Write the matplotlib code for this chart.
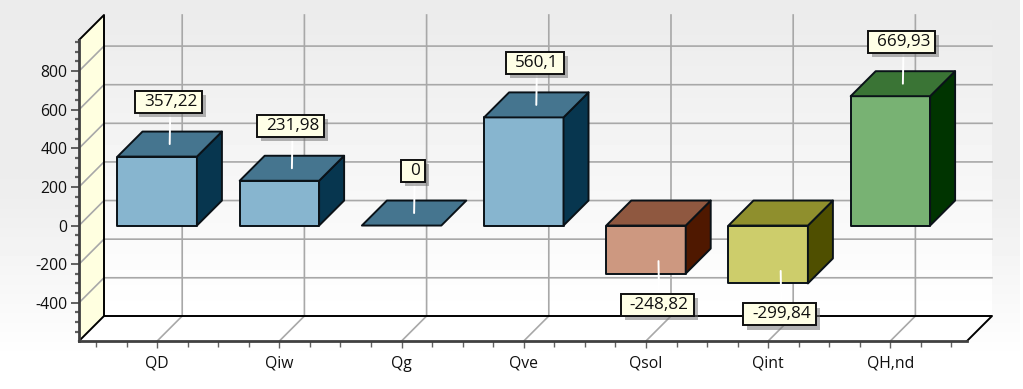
#!/usr/bin/env python3
"""Heat balance 3D-look bar chart, drawn on a plain 2D axes with an oblique depth."""

import matplotlib

matplotlib.use("Agg")
import matplotlib.patheffects as pe
import matplotlib.pyplot as plt
import numpy as np
from matplotlib.path import Path

categories = ["QD", "Qiw", "Qg", "Qve", "Qsol", "Qint", "QH,nd"]
values = [357.22, 231.98, 0, 560.1, -248.82, -299.84, 669.93]
value_labels = ["357,22", "231,98", "0", "560,1", "-248,82", "-299,84", "669,93"]
y_ticks = [-400, -200, 0, 200, 400, 600, 800]

# front, top, side
BLUE = ("#87b5cf", "#45758f", "#07364f")
BROWN = ("#cd9880", "#8f5840", "#4f1800")
OLIVE = ("#cdcd6b", "#8f8f2d", "#4f4f00")
GREEN = ("#78b273", "#3a7435", "#003400")
bar_colors = [BLUE, BLUE, BLUE, BLUE, BROWN, OLIVE, GREEN]

W, H = 1023, 389
DEPTH_PX = 25
BAR_WIDTH = 0.65
XLIM = (-0.640, 6.627)
YLIM = (-598, 961)
GRID = "#a8a8a8"
INK = "#0a1218"

plt.rcParams["font.family"] = ["Open Sans", "DejaVu Sans"]
plt.rcParams["axes.unicode_minus"] = False

fig = plt.figure(figsize=(W / 100, H / 100), dpi=100, facecolor="white")

# background gradients, in pixel coordinates
bg = fig.add_axes([0, 0, 1, 1], zorder=0)
bg.axis("off")
outer = np.interp(np.arange(H), [0, 190, 360, H], [0.925, 0.93, 1.0, 1.0])
bg.imshow(outer[:, None], extent=(0, 1020, H, 0), cmap="gray", vmin=0, vmax=1, aspect="auto")
wall = np.interp(np.arange(300), [0, 300], [0.925, 1.0])
bg.imshow(wall[:, None], extent=(104, 992, 316, 16), cmap="gray", vmin=0, vmax=1, aspect="auto")
bg.set_xlim(0, W)
bg.set_ylim(H, 0)

# the axes itself is the front plane of the box
ax = fig.add_axes([79 / W, (H - 341) / H, (967 - 79) / W, (341 - 40) / H], zorder=1)
ax.patch.set_visible(False)
ax.set_xlim(*XLIM)
ax.set_ylim(*YLIM)

dx = DEPTH_PX * (XLIM[1] - XLIM[0]) / (967 - 79)
dy = DEPTH_PX * (YLIM[1] - YLIM[0]) / (341 - 40)
x0, x1 = XLIM
y0, y1 = YLIM

# side wall and floor
ax.fill([x0, x0 + dx, x0 + dx, x0], [y0, y0 + dy, y1 + dy, y1], color="#ffffe0", lw=0, clip_on=False, zorder=1)
ax.fill([x0, x1, x1 + dx, x0 + dx], [y0, y0, y0 + dy, y0 + dy], color="white", lw=0, clip_on=False, zorder=1)

# grid
for v in y_ticks:
    ax.plot([x0, x0 + dx, x1 + dx], [v, v + dy, v + dy], color=GRID, lw=1.2, clip_on=False, zorder=1.2)
for i in range(len(categories)):
    ax.plot([i, i + dx, i + dx], [y0, y0 + dy, y1 + dy], color=GRID, lw=1.2, clip_on=False, zorder=1.2)

# box edges
ax.plot([x0, x0 + dx, x0 + dx, x0], [y1, y1 + dy, y0 + dy, y0], color="black", lw=1.4, clip_on=False, zorder=1.5)
ax.plot([x0 + dx, x1 + dx, x1], [y0 + dy, y0 + dy, y0], color="black", lw=1.4, clip_on=False, zorder=1.5)


def label_box(x, y, width, height, mutation_size):
    # the original boxes have a fixed height and more room left of the text
    cy = y + height / 2
    left, right = x - 9, x + width + 5
    low, high = cy - 11, cy + 11
    return Path(
        [(left, low), (right, low), (right, high), (left, high), (left, low)],
        closed=True,
    )


for i, (value, label, colors) in enumerate(zip(values, value_labels, bar_colors)):
    front, top_c, side = colors
    left = i - BAR_WIDTH / 2
    right = i + BAR_WIDTH / 2
    top = max(value, 0)
    bottom = min(value, 0)
    edge = dict(edgecolor=INK, linewidth=1.4, joinstyle="round", clip_on=False, zorder=3)
    if value != 0:
        ax.fill([left, right, right, left], [bottom, bottom, top, top], facecolor=front, **edge)
        ax.fill(
            [right, right + dx, right + dx, right],
            [bottom, bottom + dy, top + dy, top],
            facecolor=side,
            **edge,
        )
    ax.fill(
        [left, right, right + dx, left + dx],
        [top, top, top + dy, top + dy],
        facecolor=top_c,
        **edge,
    )

    # labels sit above (or below) the middle of the bar's end
    anchor = (i + dx / 2, value + dy / 2)
    shift = 42 if value >= 0 else -43.5
    ann = ax.annotate(
        label,
        xy=anchor,
        xytext=(0.5, shift * 0.72),
        textcoords="offset points",
        ha="center",
        va="center",
        fontsize=12.3,
        color="#101010",
        annotation_clip=False,
        zorder=6,
        bbox=dict(boxstyle=label_box, facecolor="#ffffe6", edgecolor="#101010", linewidth=1.4),
        arrowprops=dict(arrowstyle="-", color="white", lw=1.4, shrinkA=0, shrinkB=0, relpos=(0.5, 0.5)),
    )
    ann.get_bbox_patch().set_path_effects(
        [pe.SimplePatchShadow(offset=(3, -3), shadow_rgbFace="#777777", alpha=0.55), pe.Normal()]
    )

# axes, ticks
for name in ("top", "right"):
    ax.spines[name].set_visible(False)
for name in ("left", "bottom"):
    ax.spines[name].set_linewidth(2)
    ax.spines[name].set_color("#404040")
    ax.spines[name].set_zorder(2)

ax.set_xticks(range(len(categories)), categories)
ax.set_xticks(np.arange(-0.5, 6.75, 0.25), minor=True)
ax.set_yticks(y_ticks)
ax.set_yticks(np.arange(-550, 1000, 50), minor=True)
ax.tick_params(axis="y", which="major", length=6, width=1.4, color="#606060", labelsize=11.3, pad=2.5, labelcolor="#101010")
ax.tick_params(axis="y", which="minor", length=3, width=1.6, color="#606060")
ax.tick_params(axis="x", which="major", length=5, width=1, color="#606060", labelsize=11.3, pad=5.8, labelcolor="#101010")
ax.tick_params(axis="x", which="minor", length=4, width=1, color="#606060")

fig.savefig("out.png", dpi=100)
